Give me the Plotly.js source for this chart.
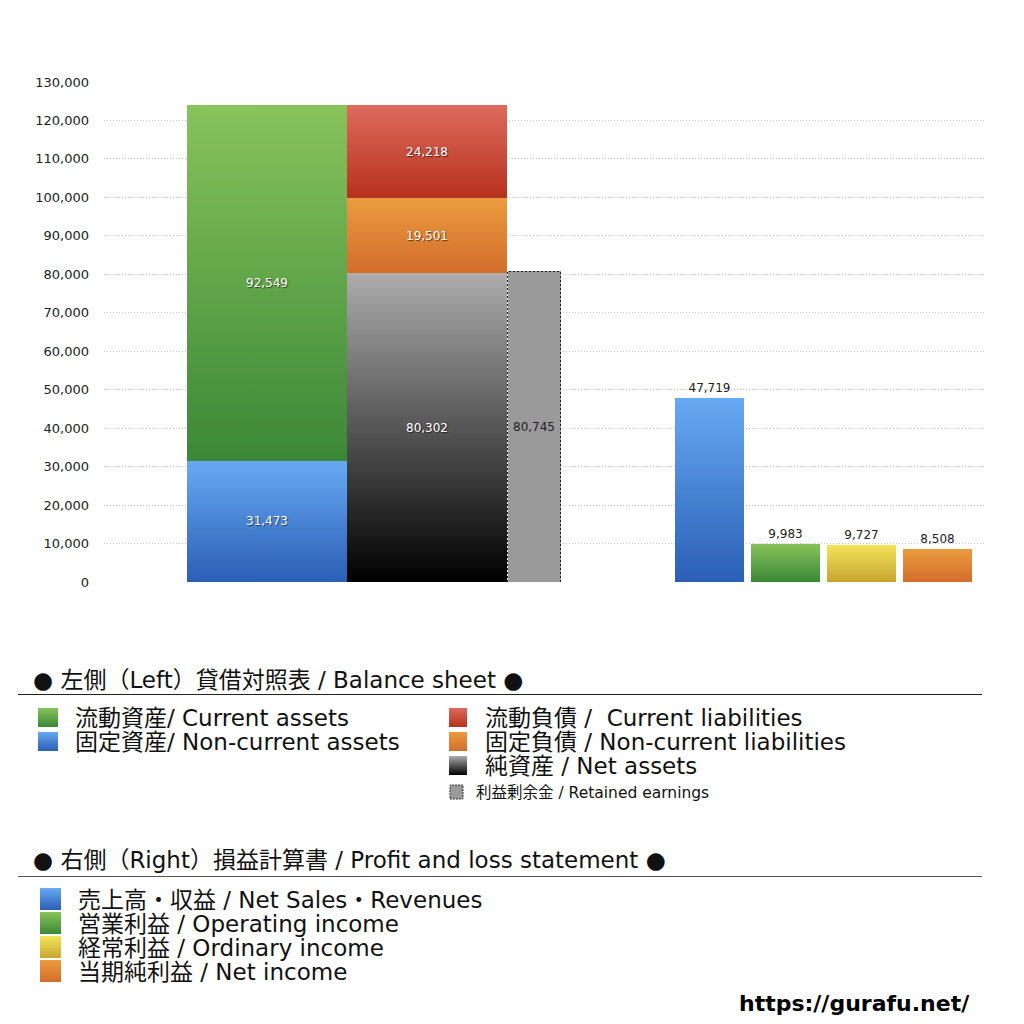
<!DOCTYPE html>
<html>
<head>
<meta charset="utf-8">
<script src="https://cdn.plot.ly/plotly-3.0.1.min.js"></script>
<style>
body { margin: 0; background: #fff; }
#chart { width: 1024px; height: 1024px; }
</style>
</head>
<body>
<div id="chart"></div>
<script>
// left: balance sheet
var assetNames = ['固定資産', '流動資産']
var assetValues = [31473, 92549]
var claimNames = ['純資産', '固定負債', '流動負債']
var claimValues = [80302, 19501, 24218]
var retainedName = ['利益剰余金']
var retainedValue = [80745]
// right: profit and loss
var plNames = ['売上高・収益', '営業利益', '経常利益', '当期純利益']
var plValues = [47719, 9983, 9727, 8508]

// colour gradients, top -> bottom
var grads = {
    blue: ['#68a9f3', '#2a5fb5'],
    green: ['#88c35b', '#3a8837'],
    red: ['#dd6b5d', '#b7311c'],
    orange: ['#ea9b3e', '#d36d2c'],
    black: ['#acacac', '#000000'],
    yellow: ['#f3e458', '#c7a631']
}
var FONT = '"DejaVu Sans", "Noto Sans CJK JP", sans-serif'

// plot area: x in pixels 104..985, y 0..130000 over 82..582
var L = 104, R = 985, T = 82, B = 582
function px(x) { return (x - L) / (R - L) }
function py(y) { return (B - y) / (B - T) }

var whiteText = { color: '#fff', size: 12, family: FONT, shadow: '1px 1px 1px rgba(0,0,0,0.55)' }

var traces = []
var fillKeys = []

var assetKeys = ['blue', 'green']
assetValues.forEach(function(v, i) {
    traces.push({
        type: 'bar', x: [267], y: [v], width: [160], name: assetNames[i],
        marker: { color: grads[assetKeys[i]][1], line: { width: 0 } },
        texttemplate: '%{y:,.0f}', textposition: 'inside', insidetextanchor: 'middle',
        textfont: whiteText, constraintext: 'none', hoverinfo: 'skip'
    })
    fillKeys.push([assetKeys[i]])
})

var claimKeys = ['black', 'orange', 'red']
claimValues.forEach(function(v, i) {
    traces.push({
        type: 'bar', x: [427], y: [v], width: [160], name: claimNames[i],
        marker: { color: grads[claimKeys[i]][1], line: { width: 0 } },
        texttemplate: '%{y:,.0f}', textposition: 'inside', insidetextanchor: 'middle',
        textfont: whiteText, constraintext: 'none', hoverinfo: 'skip'
    })
    fillKeys.push([claimKeys[i]])
})

traces.push({
    type: 'bar', x: [534], y: retainedValue, width: [53], name: retainedName[0],
    marker: { color: '#9a9a9a', line: { width: 1, color: '#222' } },
    texttemplate: '%{y:,.0f}', textposition: 'inside', insidetextanchor: 'middle',
    textfont: { color: '#222', size: 12, family: FONT }, constraintext: 'none', hoverinfo: 'skip'
})
fillKeys.push([null])

var plKeys = ['blue', 'green', 'yellow', 'orange']
traces.push({
    type: 'bar', x: [709.5, 785.5, 861.5, 937.5], y: plValues, width: 69, name: 'PL',
    text: plNames,
    marker: { color: plKeys.map(function(k) { return grads[k][1] }), line: { width: 0 } },
    texttemplate: '%{y:,.0f}', textposition: 'outside', cliponaxis: false,
    textfont: { color: '#222', size: 12, family: FONT }, hoverinfo: 'skip'
})
fillKeys.push(plKeys)

// legend blocks drawn below the plot
var shapes = []
var shapeKeys = []
var annotations = []

function ann(text, x, y, size, extra) {
    var a = {
        text: text, xref: 'paper', yref: 'paper', x: px(x), y: py(y),
        xanchor: 'left', yanchor: 'middle', showarrow: false,
        font: { family: FONT, size: size, color: '#111' }
    }
    Object.assign(a, extra || {})
    annotations.push(a)
}
function box(x0, y0, x1, y1, key, extra) {
    var s = {
        type: 'rect', xref: 'paper', yref: 'paper',
        x0: px(x0), x1: px(x1), y0: py(y1), y1: py(y0),
        fillcolor: key ? grads[key][1] : '#9a9a9a', line: { width: 0 }
    }
    Object.assign(s, extra || {})
    shapes.push(s)
    shapeKeys.push(key)
}
function rule(y, color) {
    shapes.push({
        type: 'line', xref: 'paper', yref: 'paper', x0: px(18), x1: px(982),
        y0: py(y), y1: py(y), line: { color: color, width: 1 }
    })
    shapeKeys.push(null)
}

var FS = 23
ann('● 左側（Left）貸借対照表 / Balance sheet ●', 31, 680, FS)
rule(694.5, '#222')
box(38, 708, 58, 727, 'green')
box(38, 732, 58, 751, 'blue')
ann('流動資産/ Current assets', 73, 718, FS)
ann('固定資産/ Non-current assets', 73, 742, FS)
box(449, 708, 467, 727, 'red')
box(449, 732, 467, 751, 'orange')
box(449, 756, 467, 775, 'black')
box(450, 785, 463, 799, null, { line: { width: 1, color: '#333', dash: '2px,1px' } })
ann('流動負債 /  Current liabilities', 483, 718, FS)
ann('固定負債 / Non-current liabilities', 483, 742, FS)
ann('純資産 / Net assets', 483, 766, FS)
ann('利益剰余金 / Retained earnings', 474, 793, 15.5)

ann('● 右側（Right）損益計算書 / Profit and loss statement ●', 31, 860, FS)
rule(876.5, '#555')
box(40, 888, 61, 910, 'blue')
box(40, 912, 61, 934, 'green')
box(40, 936, 61, 958, 'yellow')
box(40, 960, 61, 982, 'orange')
ann('売上高・収益 / Net Sales・Revenues', 76, 900, FS)
ann('営業利益 / Operating income', 76, 924, FS)
ann('経常利益 / Ordinary income', 76, 948, FS)
ann('当期純利益 / Net income', 76, 972, FS)

ann('<b>https://gurafu.net/</b>', 972, 1004, 22, { xanchor: 'right', font: { family: FONT, size: 22, color: '#000' } })

var layout = {
    width: 1024, height: 1024,
    margin: { l: L, r: 1024 - R, t: T, b: 1024 - B, pad: 0 },
    paper_bgcolor: '#fff', plot_bgcolor: '#fff',
    barmode: 'stack', showlegend: false,
    font: { family: FONT, color: '#222' },
    xaxis: { range: [L, R], visible: false, fixedrange: true },
    yaxis: {
        range: [0, 130000], dtick: 10000, tickformat: ',d',
        showgrid: true, gridcolor: '#c4c4c4', griddash: '1px,2px', gridwidth: 1,
        zeroline: false, showline: false, ticks: '', ticklabelstandoff: 14,
        tickfont: { size: 13, color: '#222', family: FONT }, fixedrange: true
    },
    shapes: shapes,
    annotations: annotations
}

var gd = document.getElementById('chart')
Plotly.newPlot(gd, traces, layout, { staticPlot: true }).then(function() {
    var svg = gd.querySelector('.main-svg')
    var ns = 'http://www.w3.org/2000/svg'
    var defs = svg.querySelector('defs')
    Object.keys(grads).forEach(function(k) {
        var g = document.createElementNS(ns, 'linearGradient')
        g.setAttribute('id', 'grad-' + k)
        g.setAttribute('x1', '0'); g.setAttribute('y1', '0')
        g.setAttribute('x2', '0'); g.setAttribute('y2', '1')
        grads[k].forEach(function(c, i) {
            var st = document.createElementNS(ns, 'stop')
            st.setAttribute('offset', i === 0 ? '0' : '1')
            st.setAttribute('stop-color', c)
            g.appendChild(st)
        })
        defs.appendChild(g)
    })
    gd.querySelectorAll('.barlayer .trace').forEach(function(node, ti) {
        node.querySelectorAll('.point path').forEach(function(p, pi) {
            var key = fillKeys[ti] && fillKeys[ti][pi]
            if (key) p.style.fill = 'url(#grad-' + key + ')'
            else p.style.strokeDasharray = '2,2'
        })
    })
    gd.querySelectorAll('.shapelayer path[data-index]').forEach(function(p) {
        var key = shapeKeys[+p.getAttribute('data-index')]
        if (key) p.style.fill = 'url(#grad-' + key + ')'
    })
})
</script>
</body>
</html>
